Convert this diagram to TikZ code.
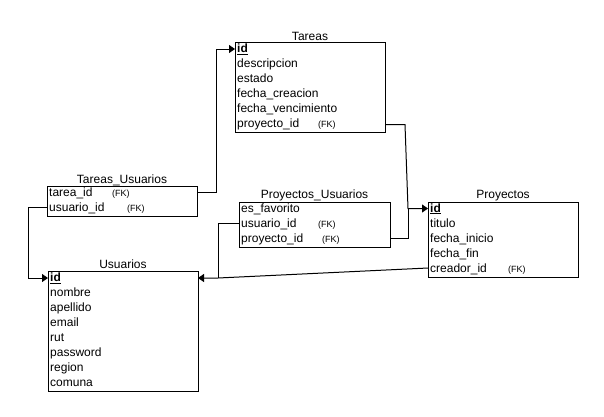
\documentclass[tikz,border=0pt]{standalone}
\usepackage{fontspec}
\setmainfont{Liberation Sans}
\usetikzlibrary{arrows.meta}
\newcommand{\rowfnt}{\fontsize{12}{14}\selectfont}
\newcommand{\fkfnt}{\fontsize{9}{11}\selectfont}
\newcommand{\pk}{\textbf{\underline{id}}}
\begin{document}
\begin{tikzpicture}[x=1pt,y=-1pt,
  tbl/.style={draw=black, line width=1pt, anchor=north west, inner sep=0pt, minimum width=150pt},
  row/.style={anchor=base west, inner sep=0pt, font=\rowfnt},
  fk/.style={anchor=base west, inner sep=0pt, font=\fkfnt},
  ttl/.style={anchor=base, inner sep=0pt, font=\rowfnt},
  conn/.style={draw=black, line width=1pt},
  arr/.style={-{Triangle[length=6pt,width=8pt]}}]
\useasboundingbox[fill=white] (0,0) rectangle (604,416);

% ---------- Tareas ----------
\node[tbl, minimum height=90pt] (tareas) at (235,41.5) {};
\node[ttl] (tareas-t) at (310,40) {Tareas};
\node[row] (ta1) at (237,52.5) {\pk};
\node[row] (ta2) at (237,67.5) {descripcion};
\node[row] (ta3) at (237,82.5) {estado};
\node[row] (ta4) at (237,97.5) {fecha\_creacion};
\node[row] (ta5) at (237,112.5) {fecha\_vencimiento};
\node[row] (ta6) at (237,127.5) {proyecto\_id};
\node[fk] (ta6fk) at (318,127.5) {(FK)};
\coordinate (ta-r1) at (235,49);
\coordinate (ta-r6) at (385,124.5);

% ---------- Tareas_Usuarios ----------
\node[tbl, minimum height=30pt] (tu) at (47,185.5) {};
\node[ttl] (tu-t) at (122,183) {Tareas\_Usuarios};
\node[row] (tu1) at (49,196) {tarea\_id};
\node[fk] (tu1fk) at (112,196) {(FK)};
\node[row] (tu2) at (49,211) {usuario\_id};
\node[fk] (tu2fk) at (127,211) {(FK)};
\coordinate (tu-r1) at (197,192);
\coordinate (tu-r2) at (47,207.5);

% ---------- Usuarios ----------
\node[tbl, minimum height=120pt] (us) at (48,270.5) {};
\node[ttl] (us-t) at (123,268) {Usuarios};
\node[row] (us1) at (50,281.5) {\pk};
\node[row] (us2) at (50,296.5) {nombre};
\node[row] (us3) at (50,311.5) {apellido};
\node[row] (us4) at (50,326.5) {email};
\node[row] (us5) at (50,341.5) {rut};
\node[row] (us6) at (50,356.5) {password};
\node[row] (us7) at (50,371.5) {region};
\node[row] (us8) at (50,386.5) {comuna};
\coordinate (us-w) at (48,278);
\coordinate (us-e) at (198,278);

% ---------- Proyectos_Usuarios ----------
\node[tbl, minimum width=151pt, minimum height=45pt] (pu) at (239,201.5) {};
\node[ttl] (pu-t) at (314.5,198) {Proyectos\_Usuarios};
\node[row] (pu1) at (241,212) {es\_favorito};
\node[row] (pu2) at (241,227) {usuario\_id};
\node[fk] (pu2fk) at (318,227) {(FK)};
\node[row] (pu3) at (241,242) {proyecto\_id};
\node[fk] (pu3fk) at (322,242) {(FK)};
\coordinate (pu-r2) at (239,223);
\coordinate (pu-r3) at (390,238);

% ---------- Proyectos ----------
\node[tbl, minimum height=75pt] (pr) at (428,201.5) {};
\node[ttl] (pr-t) at (503,198) {Proyectos};
\node[row] (pr1) at (430,212) {\pk};
\node[row] (pr2) at (430,227) {titulo};
\node[row] (pr3) at (430,242) {fecha\_inicio};
\node[row] (pr4) at (430,257) {fecha\_fin};
\node[row] (pr5) at (430,272) {creador\_id};
\node[fk] (pr5fk) at (508,272) {(FK)};
\coordinate (pr-r1) at (428,208.5);
\coordinate (pr-r5) at (428,268);

% ---------- connectors ----------
\coordinate (j1) at (216,192);
\coordinate (j2) at (216,49);
\draw[conn,arr] (tu-r1) -- (j1) -- (j2) -- (ta-r1);

\coordinate (j3) at (405,124.5);
\coordinate (j4) at (408,208.5);
\draw[conn,arr] (ta-r6) -- (j3) -- (j4) -- (pr-r1);

\coordinate (j5) at (408,238);
\draw[conn] (pu-r3) -- (j5) -- (j4);

\coordinate (j6) at (28,207.5);
\coordinate (j7) at (28,278);
\draw[conn,arr] (tu-r2) -- (j6) -- (j7) -- (us-w);

\coordinate (j8) at (218,278);
\draw[conn,arr] (pr-r5) -- (j8) -- (us-e);

\coordinate (j9) at (218,223);
\draw[conn] (pu-r2) -- (j9) -- (j8);
\end{tikzpicture}
\end{document}
